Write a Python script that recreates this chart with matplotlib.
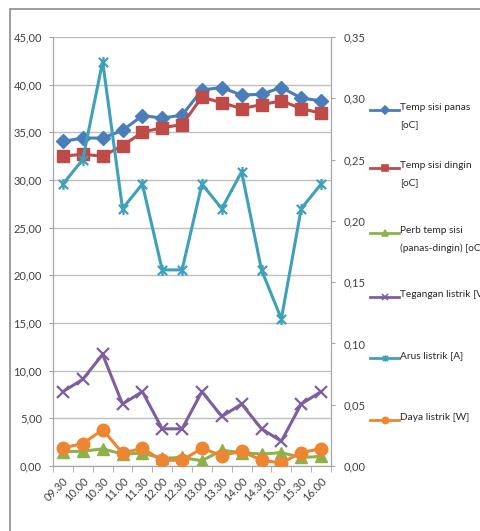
import matplotlib.pyplot as plt
import numpy as np
from matplotlib.lines import Line2D
from matplotlib.patches import Rectangle
from matplotlib.path import Path
from matplotlib.ticker import FuncFormatter, MultipleLocator, FixedLocator

plt.rcParams['font.family'] = ['Lato', 'DejaVu Sans']

times = ['09.30', '10.00', '10.30', '11.00', '11.30', '12.00', '12.30',
         '13.00', '13.30', '14.00', '14.30', '15.00', '15.30', '16.00']
temp_panas = [34.05, 34.4, 34.4, 35.2, 36.75, 36.5, 36.8, 39.45, 39.7, 38.9, 39.0, 39.7, 38.6, 38.3]
temp_dingin = [32.5, 32.7, 32.5, 33.6, 35.0, 35.5, 35.8, 38.7, 38.1, 37.5, 37.9, 38.3, 37.5, 37.0]
perb_temp = [1.5, 1.55, 1.8, 1.25, 1.35, 0.8, 0.9, 0.55, 1.65, 1.4, 1.25, 1.4, 0.9, 1.0]
tegangan = [7.8, 9.1, 11.7, 6.5, 7.8, 3.9, 3.9, 7.8, 5.2, 6.5, 3.9, 2.6, 6.5, 7.8]
arus = [0.23, 0.25, 0.33, 0.21, 0.23, 0.16, 0.16, 0.23, 0.21, 0.24, 0.16, 0.12, 0.21, 0.23]
daya = [1.9, 2.35, 3.8, 1.37, 1.85, 0.6, 0.6, 1.85, 1.1, 1.55, 0.6, 0.33, 1.4, 1.82]

labels = ['Temp sisi panas\n[oC]', 'Temp sisi dingin\n[oC]',
          'Perb temp sisi\n(panas-dingin) [oC]', 'Tegangan listrik [V]',
          'Arus listrik [A]', 'Daya listrik [W]']

c_blue, c_red, c_green = '#4A7EBB', '#BE4B48', '#8DB24A'
c_purple, c_teal, c_orange = '#7D5FA0', '#3FA0BA', '#EE8533'

# excel style "star" marker: x with a vertical bar
star = Path([(-1, -1), (1, 1), (-1, 1), (1, -1), (0, -1.2), (0, 1.2)],
            [Path.MOVETO, Path.LINETO, Path.MOVETO, Path.LINETO, Path.MOVETO, Path.LINETO])

W, H = 480, 531
fig = plt.figure(figsize=(W / 100, H / 100), dpi=100)
fig.patches.append(Rectangle((10 / W, -0.2), 1.2, 1.2 - 9 / H, transform=fig.transFigure,
                             fill=False, edgecolor='#8c8c8c', linewidth=1.2))

ax = fig.add_axes([53 / W, 1 - 466 / H, 278 / W, 429 / H])
x = np.arange(len(times))
lw = 2.2
ax.plot(x, temp_panas, color=c_blue, lw=lw, marker='D', ms=7, zorder=3)
ax.plot(x, temp_dingin, color=c_red, lw=lw, marker='s', ms=8, zorder=3)
ax.plot(x, perb_temp, color=c_green, lw=lw, marker='^', ms=8, zorder=3)
ax.plot(x, tegangan, color=c_purple, lw=lw, marker='x', ms=9, mew=1.6, zorder=3)
ax2 = ax.twinx()
ax2.plot(x, arus, color=c_teal, lw=lw, marker=star, ms=8, mew=1.6, zorder=3)
ax2.plot(x, np.array(daya) * 0.35 / 45, color=c_orange, lw=lw, marker='o', ms=9, zorder=4)

ax.set_xlim(-0.5, len(times) - 0.5)
ax.set_ylim(0, 45)
ax2.set_ylim(0, 0.35)
ax.yaxis.set_major_locator(MultipleLocator(5))
ax2.yaxis.set_major_locator(MultipleLocator(0.05))
fmt = FuncFormatter(lambda v, p: f'{v:.2f}'.replace('.', ','))
ax.yaxis.set_major_formatter(fmt)
ax2.yaxis.set_major_formatter(fmt)
ax.grid(axis='y', color='#bfbfbf', lw=1)
ax.set_axisbelow(True)

ax.set_xticks(x)
ax.set_xticklabels(times, rotation=45, ha='right', rotation_mode='anchor')
ax.xaxis.set_minor_locator(FixedLocator(np.arange(-0.5, len(times), 1)))
ax.tick_params(axis='x', which='major', length=0, pad=7)
ax.tick_params(axis='x', which='minor', length=4, color='#a6a6a6')

for a in (ax, ax2):
    a.tick_params(labelsize=8, labelcolor='#404040', color='#a6a6a6')
    for s in a.spines.values():
        s.set_color('#a6a6a6')
    a.spines['top'].set_visible(False)
ax.tick_params(axis='y', length=3, pad=5)
ax2.tick_params(axis='y', length=3, pad=6)

# legend, drawn at the right like excel puts it
leg_style = [(c_blue, 'D', 4), (c_red, 's', 4), (c_green, '^', 4.5),
             (c_purple, 'x', 4.5), (c_teal, star, 4.5), (c_orange, 'o', 4.5)]
leg_y = [110, 168, 233, 297, 358, 420]
for (col, mk, ms), ly, lab in zip(leg_style, leg_y, labels):
    fy = 1 - ly / H
    fig.add_artist(Line2D([370 / W, 399 / W], [fy, fy], color=col, lw=2,
                          transform=fig.transFigure))
    fig.add_artist(Line2D([385 / W], [fy], color=col, marker=mk, ms=ms, mew=1.2,
                          transform=fig.transFigure))
    fig.text(400 / W, fy + 7 / H, lab, ha='left', va='top', fontsize=7.3,
             color='#262626', linespacing=2.15)

fig.savefig('out.png', dpi=100)
